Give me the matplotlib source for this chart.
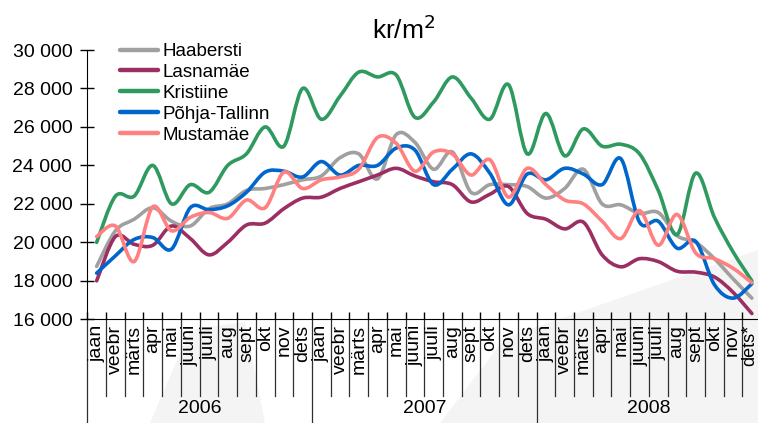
import matplotlib
matplotlib.use("Agg")
import matplotlib.pyplot as plt
from matplotlib.path import Path
from matplotlib.patches import PathPatch, Polygon
from matplotlib.lines import Line2D

plt.rcParams['font.family'] = ['Liberation Sans', 'DejaVu Sans']

# months (one category per month, 2006-2008)
months = ["jaan", "veebr", "märts", "apr", "mai", "juuni", "juuli", "aug",
          "sept", "okt", "nov", "dets"]
month_labels = months * 2 + months[:-1] + ["dets*"]
years = ["2006", "2007", "2008"]

# price per m2, one value per month
haabersti = [18750, 20600, 21200, 21800, 21100, 20850, 21750, 22000, 22700, 22800, 23000, 23250,
             23450, 24400, 24600, 23300, 25600, 25200, 23800, 24700, 22600, 23000, 23000, 22900,
             22300, 22800, 23800, 22000, 21950, 21500, 21550, 20350, 20000, 19150, 18100, 17100]
lasnamae = [18000, 20300, 19900, 19850, 20850, 20200, 19350, 20000, 20900, 21000, 21750, 22300,
            22350, 22800, 23150, 23500, 23850, 23450, 23150, 23000, 22100, 22500, 22900, 21500,
            21200, 20700, 21050, 19350, 18730, 19150, 19000, 18500, 18450, 18200, 17400, 16300]
kristiine = [20000, 22400, 22400, 24000, 22000, 23000, 22600, 24000, 24600, 26000, 25000, 28000,
             26400, 27600, 28850, 28600, 28700, 26500, 27300, 28600, 27500, 26400, 28200, 24600,
             26700, 24500, 25900, 25000, 25100, 24600, 22700, 20400, 23600, 21300, 19500, 18000]
pohja_tallinn = [18400, 19300, 20150, 20250, 19650, 21800, 21700, 21900, 22600, 23650, 23700, 23400,
                 24200, 23500, 24000, 24000, 24900, 24800, 23000, 23800, 24600, 23600, 21950, 23550,
                 23250, 23850, 23550, 23000, 24350, 21050, 21100, 19700, 20050, 17800, 17100, 17850]
mustamae = [20300, 20850, 19000, 21850, 20600, 21300, 21550, 21250, 22200, 21800, 23650, 22800,
            23250, 23400, 23800, 25450, 25150, 23700, 24700, 24600, 23500, 24300, 22350, 23850,
            23000, 22200, 22000, 21100, 20200, 21650, 19850, 21450, 19450, 19150, 18650, 17900]

series = [
    ("Haabersti", haabersti, "#a0a0a0"),
    ("Lasnamäe", lasnamae, "#9b2f63"),
    ("Kristiine", kristiine, "#2e9a5f"),
    ("Põhja-Tallinn", pohja_tallinn, "#0066cc"),
    ("Mustamäe", mustamae, "#ff8080"),
]


def smooth_path(x, y):
    # smoothed line like the spreadsheet draws it (curve passes through each point)
    verts = [(x[0], y[0])]
    codes = [Path.MOVETO]
    n = len(x)
    for i in range(n - 1):
        x0, y0 = (x[i - 1], y[i - 1]) if i > 0 else (x[i], y[i])
        x3, y3 = (x[i + 2], y[i + 2]) if i + 2 < n else (x[i + 1], y[i + 1])
        c1 = (x[i] + (x[i + 1] - x0) / 6, y[i] + (y[i + 1] - y0) / 6)
        c2 = (x[i + 1] - (x3 - x[i]) / 6, y[i + 1] - (y3 - y[i]) / 6)
        verts += [c1, c2, (x[i + 1], y[i + 1])]
        codes += [Path.CURVE4] * 3
    return Path(verts, codes)


W, H = 758, 423
fig = plt.figure(figsize=(W / 100, H / 100), dpi=100)

# faint background shading of the original slide
for pts in ([(440, 423), (505, 338), (758, 250), (758, 423)],
            [(150, 423), (190, 330), (245, 322), (265, 423)]):
    fig.patches.append(Polygon([(px / W, 1 - py / H) for px, py in pts], closed=True,
                               transform=fig.transFigure, facecolor="#f4f4f4",
                               edgecolor="none", zorder=-10))

# axes: x from 87 px, 18.72 px per month (right end falls just outside the picture)
ax = fig.add_axes([87.3 / W, (H - 319.3) / H, 36 * 18.72 / W, 269.3 / H])
ax.set_zorder(1)
ax.patch.set_alpha(0)

xs = [i + 0.5 for i in range(len(month_labels))]
handles = []
for name, vals, col in series:
    ax.add_patch(PathPatch(smooth_path(xs, vals), fill=False, edgecolor=col, lw=2.6,
                           capstyle='round', joinstyle='round'))
    handles.append(Line2D([], [], color=col, lw=3.2, solid_capstyle='round', label=name))

ax.set_xlim(0, 36)
ax.set_ylim(16000, 30000)

yt = list(range(16000, 30001, 2000))
ax.set_yticks(yt)
ax.set_yticklabels([f"{v:,}".replace(",", " ") for v in yt], fontsize=14)
ax.set_xticks(range(0, 37))
ax.set_xticklabels([])
ax.tick_params(axis='y', direction='inout', length=9.6, width=1, pad=6)
ax.tick_params(axis='x', direction='in', length=5.4, width=1)
for s in ["top", "right"]:
    ax.spines[s].set_visible(False)

tr = ax.get_xaxis_transform()
# month separators under the axis and year separators
for i in range(37):
    low = -0.385 if i % 12 == 0 else -0.285
    ax.plot([i, i], [0, low], color="#303030", lw=0.9, transform=tr, clip_on=False)
for i, lab in enumerate(month_labels):
    xp, fs = i + 0.5, 14
    if i == 34:
        xp = 34.45
    if i == 35:
        xp, fs = 35.37, 13
    ax.text(xp, -0.02, lab, transform=tr, rotation=90, ha='center', va='top',
            fontsize=fs, clip_on=False)
for j, yr in enumerate(years):
    ax.text(12 * j + 6, -0.33, yr, transform=tr, ha='center', va='center', fontsize=14)

fig.text(404 / W, 1 - 30 / H, "kr/m$^2$", ha='center', va='center', fontsize=19)

ax.legend(handles=handles, loc='upper left', bbox_to_anchor=(120 / W, 1 - 43 / H),
          bbox_transform=fig.transFigure, frameon=False, fontsize=13.5,
          handlelength=2.0, handletextpad=0.27, labelspacing=0.2, borderpad=0,
          borderaxespad=0)

fig.savefig("out.png", dpi=100)
